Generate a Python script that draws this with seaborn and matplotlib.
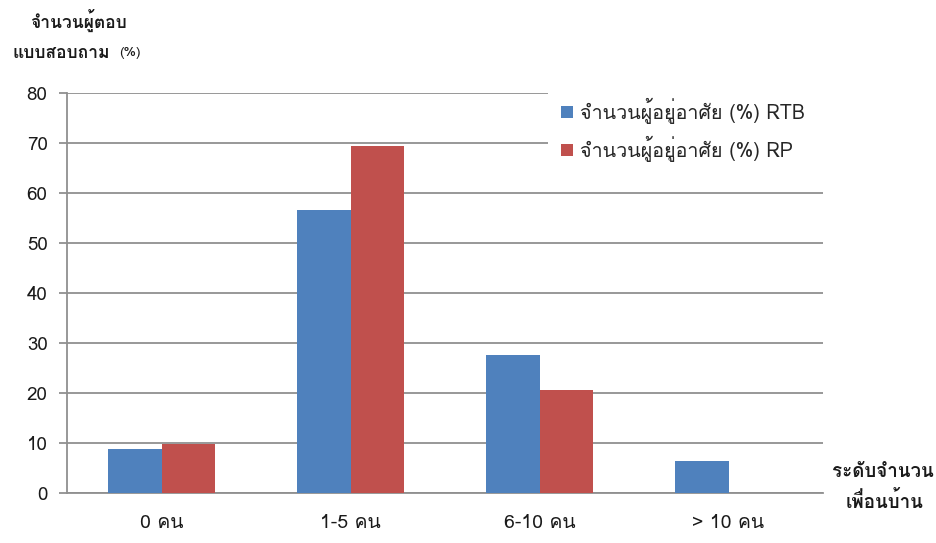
import matplotlib
matplotlib.use("Agg")
import matplotlib.pyplot as plt
from matplotlib.patches import Rectangle
from matplotlib import font_manager
from matplotlib.ft2font import FT2Font
import seaborn as sns
import pandas as pd

categories = ["0 คน", "1-5 คน", "6-10 คน", "> 10 คน"]
series_names = ["จำนวนผู้อยู่อาศัย (%) RTB", "จำนวนผู้อยู่อาศัย (%) RP"]
rtb_values = [8.8, 56.6, 27.6, 6.5]
rp_values = [9.8, 69.4, 20.6, 0.0]
y_ticks = [0, 10, 20, 30, 40, 50, 60, 70, 80]

colors = ["#4F81BD", "#C0504D"]
grid_color = "#909090"
text_color = "#1a1a1a"


def thai_families():
    found = []
    for f in font_manager.fontManager.ttflist:
        try:
            cmap = FT2Font(f.fname).get_charmap()
        except Exception:
            continue
        if 0x0E08 in cmap and f.name not in found:
            found.append(f.name)
    return found


sns.set_theme(style="white")
plt.rcParams["font.family"] = thai_families() + ["DejaVu Sans"]

df = pd.DataFrame({
    "category": categories * 2,
    "series": [series_names[0]] * 4 + [series_names[1]] * 4,
    "value": rtb_values + rp_values,
})

W, H = 936, 543
fig = plt.figure(figsize=(W / 100, H / 100), dpi=100)
ax = fig.add_axes([67 / W, 1 - 493 / H, (823 - 67) / W, 400 / H])

sns.barplot(data=df, x="category", y="value", hue="series", order=categories,
            hue_order=series_names, palette=colors, width=0.57, gap=0,
            saturation=1, linewidth=0, ax=ax, zorder=3)

ax.set_xlim(-0.5, 3.5)
ax.set_ylim(0, 80)
ax.set_yticks(y_ticks)
ax.yaxis.grid(True, color=grid_color, linewidth=1.3, zorder=0)
ax.set_axisbelow(True)
ax.set_xlabel("")
ax.set_ylabel("")

for side in ["top", "right"]:
    ax.spines[side].set_visible(False)
for side in ["left", "bottom"]:
    ax.spines[side].set_color(grid_color)
    ax.spines[side].set_linewidth(1.3)

ax.set_xticks(range(len(categories)))
ax.set_xticklabels(categories, fontsize=14, color=text_color)
ax.tick_params(axis="x", length=0, pad=15)
ax.set_xticks([-0.5, 0.5, 1.5, 2.5, 3.5], minor=True)
ax.tick_params(axis="x", which="minor", length=6, color=grid_color, width=1.3,
               direction="out")
ax.tick_params(axis="y", length=6, color=grid_color, width=1.3, labelsize=13.5,
               labelcolor=text_color, pad=8, direction="out", left=True)

# white panel behind the legend hides the top gridlines on the right
ax.add_patch(Rectangle((548 / W, 1 - 168 / H), 300 / W, 83 / H,
                       transform=fig.transFigure, facecolor="white",
                       edgecolor="none", zorder=4, clip_on=False))

leg = ax.legend(loc="upper left",
                bbox_to_anchor=(555 / W, 1 - 92 / H),
                bbox_transform=fig.transFigure, frameon=False,
                handlelength=0.6, handleheight=0.6, handletextpad=0.35,
                labelspacing=0.6, fontsize=14.2, borderpad=0.3,
                borderaxespad=0)
leg.set_zorder(5)

fig.text(78 / W, 1 - 20 / H, "จำนวนผู้ตอบ", ha="center", va="center",
         fontsize=12.5, fontweight="bold", color=text_color)
fig.text(12 / W, 1 - 53 / H, "แบบสอบถาม", ha="left", va="center",
         fontsize=12.5, fontweight="bold", color=text_color)
fig.text(119 / W, 1 - 53 / H, "(%)", ha="left", va="center",
         fontsize=10, color=text_color)

fig.text(883 / W, 1 - 472 / H, "ระดับจำนวน", ha="center", va="center",
         fontsize=13.5, fontweight="bold", color=text_color)
fig.text(885 / W, 1 - 502 / H, "เพื่อนบ้าน", ha="center", va="center",
         fontsize=13.5, fontweight="bold", color=text_color)

fig.savefig("out.png", dpi=100, facecolor="white")
